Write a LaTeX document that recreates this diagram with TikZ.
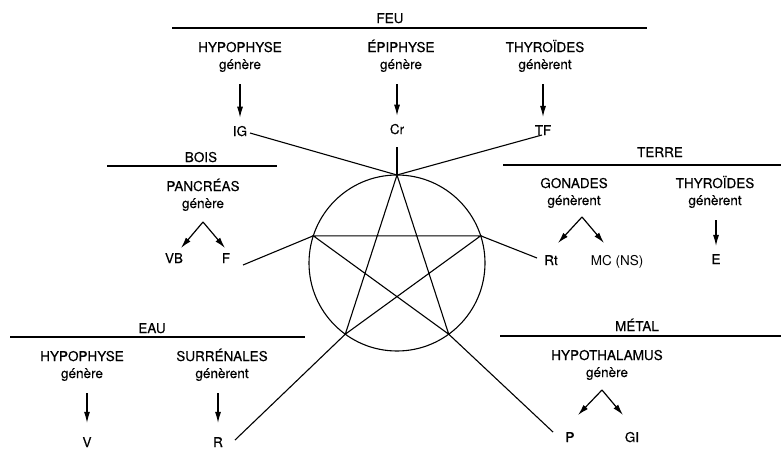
\documentclass[tikz,border=0pt]{standalone}
\usepackage{fontspec}
\setmainfont{TeX Gyre Heros}[FakeBold=0.3]
\newfontfamily\thinfont{TeX Gyre Heros}
\usepackage{tikz}
\usetikzlibrary{arrows.meta}

\begin{document}
\begin{tikzpicture}[x=1pt, y=-1pt,
    txt/.style={font=\fontsize{13.5}{17}\selectfont, inner sep=0pt, anchor=base, align=center},
    rule/.style={line width=1.2pt},
    star/.style={line width=1.1pt},
    down/.style={-{Latex[length=11pt,width=6pt]}, line width=1.2pt, shorten <=12pt, shorten >=8pt},
    fork/.style={-{Latex[length=11pt,width=6pt]}, line width=1.2pt}]
  \useasboundingbox (0,0) rectangle (781,450);

  % cercle et pentagramme
  \coordinate (c) at (397,263);
  \draw[star] (c) circle [radius=88];
  \foreach \i/\a in {1/270,2/198,3/126,4/54,5/342}
    \path (c) ++(\a:88) coordinate (v\i);
  \draw[star] (v1) -- (v3) -- (v5) -- (v2) -- (v4) -- cycle;

  \coordinate (eTop) at (397,147);
  \coordinate (eIG) at (250,133);
  \coordinate (eTF) at (542,135);
  \coordinate (eF) at (243,265);
  \coordinate (eRt) at (537,258);
  \coordinate (eR) at (235,440);
  \coordinate (eP) at (553,432);
  \draw[star] (v1) -- (eTop);
  \draw[star] (v1) -- (eIG);
  \draw[star] (v1) -- (eTF);
  \draw[star] (v2) -- (eF);
  \draw[star] (v5) -- (eRt);
  \draw[star] (v3) -- (eR);
  \draw[star] (v4) -- (eP);

  % elements
  \node[txt] (feu) at (390,23) {FEU};
  \node[txt] (bois) at (201,162) {BOIS};
  \node[txt] (terre) at (660,157) {TERRE};
  \node[txt] (eau) at (152,333) {EAU};
  \node[txt] (metal) at (637,331) {MÉTAL};
  \draw[rule] (172,28) -- (647,28);
  \draw[rule] (107,166) -- (277,166);
  \draw[rule] (503,165) -- (781,165);
  \draw[rule] (10,337) -- (305,337);
  \draw[rule] (500,336) -- (781,336);

  % glandes
  \node[txt] (hypF) at (240,69) {HYPOPHYSE\\génère};
  \node[txt] (epiF) at (401,69) {ÉPIPHYSE\\génère};
  \node[txt] (thyF) at (545,69) {THYROÏDES\\génèrent};
  \node[txt] (panB) at (203,208) {PANCRÉAS\\génère};
  \node[txt] (gonT) at (574,205) {GONADES\\génèrent};
  \node[txt] (thyT) at (715,205) {THYROÏDES\\génèrent};
  \node[txt] (hypE) at (82,378) {HYPOPHYSE\\génère};
  \node[txt] (surE) at (222,378) {SURRÉNALES\\génèrent};
  \node[txt] (hthM) at (607,377) {HYPOTHALAMUS\\génère};

  % produits
  \node[txt] (IG) at (240,136) {IG};
  \node[txt] (Cr) at (397,134) {Cr};
  \node[txt] (TF) at (543,135) {TF};
  \node[txt] (VB) at (174,263) {VB};
  \node[txt] (F) at (226,263) {F};
  \node[txt] (Rt) at (551,265) {Rt};
  \node[txt, font=\thinfont\fontsize{13.5}{17}\selectfont] (MC) at (617,265) {MC (NS)};
  \node[txt] (E) at (716,264) {E};
  \node[txt] (V) at (87,447) {V};
  \node[txt] (R) at (218,447) {R};
  \node[txt] (P) at (570,442) {P};
  \node[txt] (GI) at (632,442) {GI};

  \draw[down] (IG |- hypF.south) -- (IG.north);
  \draw[down] (Cr |- epiF.south) -- (Cr.north);
  \draw[down] (TF |- thyF.south) -- (TF.north);
  \draw[down] (E |- thyT.south) -- (E.north);
  \draw[down, shorten >=14pt] (V |- hypE.south) -- (V.north);
  \draw[down, shorten >=14pt] (R |- surE.south) -- (R.north);

  \coordinate (kB) at (203,222);
  \coordinate (kBl) at (181,248);
  \coordinate (kBr) at (225,248);
  \coordinate (kT) at (582,217);
  \coordinate (kTl) at (558,243);
  \coordinate (kTr) at (604,243);
  \coordinate (kM) at (602,390);
  \coordinate (kMl) at (578,415);
  \coordinate (kMr) at (623,415);
  \draw[fork] (kB) -- (kBl);
  \draw[fork] (kB) -- (kBr);
  \draw[fork] (kT) -- (kTl);
  \draw[fork] (kT) -- (kTr);
  \draw[fork] (kM) -- (kMl);
  \draw[fork] (kM) -- (kMr);
\end{tikzpicture}
\end{document}
